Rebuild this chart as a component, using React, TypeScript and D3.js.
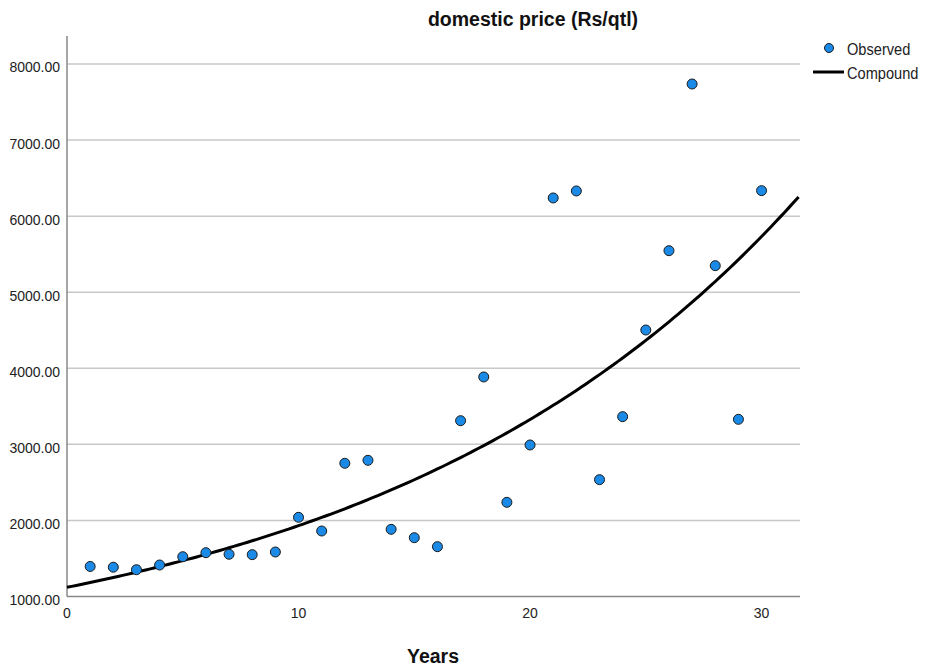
import React from "react";
import * as d3 from "d3";

// Observed domestic price by year index
const years = [1, 2, 3, 4, 5, 6, 7, 8, 9, 10, 11, 12, 13, 14, 15, 16, 17, 18, 19, 20, 21, 22, 23, 24, 25, 26, 27, 28, 29, 30];
const prices = [1395, 1385, 1352, 1414, 1523, 1576, 1555, 1550, 1585, 2041, 1861, 2751, 2790, 1883, 1773, 1655, 3311, 3886, 2238, 2992, 6239, 6331, 2536, 3364, 4503, 5546, 7737, 5349, 3329, 6335];

// Compound model coefficients: y = b0 * b1^t
const b0 = 1121;
const b1 = 1.0559;

const yTicks = [1000, 2000, 3000, 4000, 5000, 6000, 7000, 8000];
const xTicks = [0, 10, 20, 30];

const W = 927;
const H = 668;
const left = 67;
const right = 800;
const top = 36;
const bottom = 596.5;

export default function App() {
  const x = d3.scaleLinear().domain([0, 31.66]).range([left, right]);
  const y = d3.scaleLinear().domain([1000, 8368]).range([bottom, top]);

  const fitT = d3.range(0, 31.66 + 0.001, 0.2);
  const line = d3
    .line<number>()
    .x((t) => x(t))
    .y((t) => y(b0 * Math.pow(b1, t)));

  const font = "'Liberation Sans', Arial, sans-serif";

  return (
    <svg width={W} height={H} style={{ position: "absolute", left: 0, top: 0, background: "#fff" }}>
      <rect width={W} height={H} fill="#fff" />
      <text x={533} y={26} textAnchor="middle" fontFamily={font} fontWeight="bold" fontSize={19.5} fill="#111">
        domestic price (Rs/qtl)
      </text>

      {yTicks.slice(1).map((v) => (
        <line key={v} x1={left} x2={right} y1={y(v)} y2={y(v)} stroke="#c8c8c8" strokeWidth={1.5} />
      ))}

      {yTicks.map((v) => (
        <text key={v} x={60} y={y(v) + 8.5} textAnchor="end" fontFamily={font} fontSize={14} fill="#222">
          {v.toFixed(2)}
        </text>
      ))}

      {xTicks.map((v) => (
        <text key={v} x={x(v)} y={618} textAnchor="middle" fontFamily={font} fontSize={14} fill="#222">
          {v}
        </text>
      ))}

      <line x1={left} x2={left} y1={top} y2={bottom} stroke="#888" strokeWidth={1.5} />
      <line x1={left} x2={right} y1={bottom} y2={bottom} stroke="#888" strokeWidth={1.5} />

      <path d={line(fitT) || ""} fill="none" stroke="#000" strokeWidth={3} />

      {years.map((t, i) => (
        <circle key={t} cx={x(t)} cy={y(prices[i])} r={5} fill="#1a8ae6" stroke="#1a1a1a" strokeWidth={1} />
      ))}

      <text x={433} y={663} textAnchor="middle" fontFamily={font} fontWeight="bold" fontSize={19.5} fill="#111">
        Years
      </text>

      <circle cx={829} cy={48} r={4.5} fill="#1a8ae6" stroke="#1a1a1a" strokeWidth={1} />
      <g transform="translate(847,0) scale(0.86,1)">
        <text x={0} y={55} fontFamily={font} fontSize={17} fill="#222">
          Observed
        </text>
        <text x={0} y={79} fontFamily={font} fontSize={17} fill="#222">
          Compound
        </text>
      </g>
      <line x1={813} x2={844} y1={72} y2={72} stroke="#000" strokeWidth={3} />
    </svg>
  );
}
